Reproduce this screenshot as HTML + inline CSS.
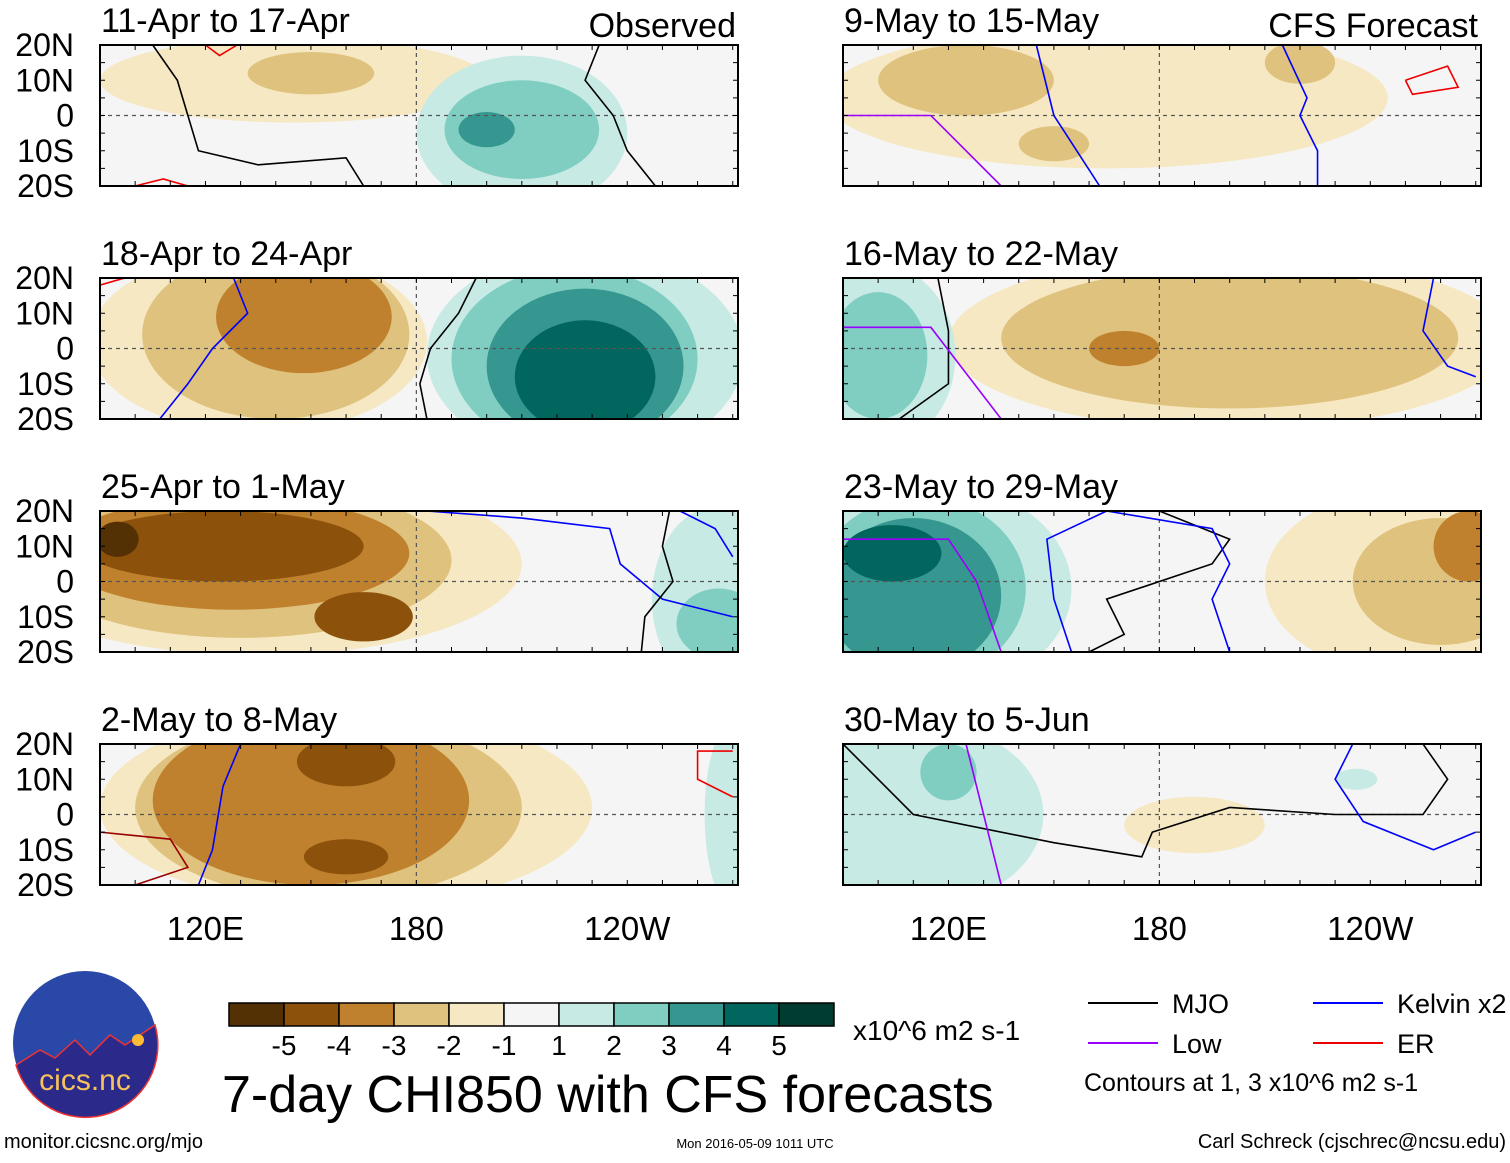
<!DOCTYPE html>
<html><head><meta charset="utf-8"><style>
body{margin:0;background:#fff;width:1510px;height:1158px;overflow:hidden;font-family:"Liberation Sans",sans-serif}
svg text{font-family:"Liberation Sans",sans-serif}
</style></head><body>
<svg id="root" width="1510" height="1158" viewBox="0 0 1510 1158" xmlns="http://www.w3.org/2000/svg"></svg>
<script>
// ---- data ----
const levelColors = ["#543005","#8c510a","#bf812d","#dfc27d","#f6e8c3","#f5f5f5","#c7eae5","#80cdc1","#35978f","#01665e","#003c30"];
const levelIndex = {"-5":0,"-4":1,"-3":2,"-2":3,"-1":4,"1":6,"2":7,"3":8,"4":9,"5":10};
const colorbarLabels = ["-5","-4","-3","-2","-1","1","2","3","4","5"];
const panelTitles = ["11-Apr to 17-Apr","18-Apr to 24-Apr","25-Apr to 1-May","2-May to 8-May","9-May to 15-May","16-May to 22-May","23-May to 29-May","30-May to 5-Jun"];
const latTicks = [20,10,0,-10,-20];
const latLabels = ["20N","10N","0","10S","20S"];
const lonTicks = [120,180,240];
const lonLabels = ["120E","180","120W"];
// blobs: [lon, lat, radiusLon, radiusLat, level]
const blobs0 = [[145,10,55,12,-1],[150,12,18,6,-2],[210,-5,30,22,1],[210,-4,22,14,2],[200,-4,8,5,3]];
const blobs1 = [[135,2,48,26,-1],[140,4,38,24,-2],[148,9,25,16,-3],[228,-2,45,30,1],[225,-3,35,26,2],[228,-5,28,22,3],[228,-8,20,16,4]];
const blobs2 = [[135,5,75,26,-1],[130,6,60,22,-2],[128,8,50,16,-3],[125,10,40,10,-4],[165,-10,14,7,-4],[95,12,6,5,-5],[265,-5,18,26,1],[266,-12,12,10,2]];
const blobs3 = [[160,2,70,28,-1],[155,2,55,26,-2],[150,4,45,24,-3],[160,15,14,7,-4],[160,-12,12,5,-4],[270,0,8,26,1]];
const blobs4 = [[165,5,80,20,-1],[125,10,25,10,-2],[150,-8,10,5,-2],[220,15,10,6,-2]];
const blobs5 = [[200,2,80,25,-1],[200,3,65,20,-2],[170,0,10,5,-3],[100,-2,22,26,1],[100,-2,14,18,2]];
const blobs6 = [[115,-2,40,30,1],[112,-2,30,26,2],[110,-4,25,22,3],[104,8,14,8,4],[250,0,40,26,-1],[260,0,25,18,-2],[268,10,10,10,-3]];
const blobs7 = [[112,0,35,26,1],[120,12,8,8,2],[190,-3,20,8,-1],[236,10,6,3,1]];
const allBlobs = [blobs0,blobs1,blobs2,blobs3,blobs4,blobs5,blobs6,blobs7];
// contour lines: [color, [[lon,lat],...]]
const lines0 = [["#000",[[105,20],[112,10],[115,0],[118,-10],[135,-14],[160,-12],[165,-20]]],["#000",[[232,20],[228,10],[236,0],[240,-10],[248,-20]]],["#e00",[[120,20],[124,17],[129,20]]],["#e00",[[100,-20],[108,-18],[115,-20]]]];
const lines1 = [["#00f",[[128,20],[132,10],[122,0],[115,-10],[107,-20]]],["#000",[[183,-20],[181,-10],[184,0],[192,10],[197,20]]],["#e00",[[90,18],[97,20]]]];
const lines2 = [["#00f",[[183,20],[210,18],[235,15],[238,5],[250,-5],[270,-10]]],["#00f",[[255,20],[265,15],[270,7]]],["#000",[[252,20],[250,10],[253,0],[245,-10],[244,-20]]]];
const lines3 = [["#00f",[[130,20],[125,8],[122,-10],[118,-20]]],["#900",[[90,-5],[110,-7],[115,-15],[100,-20]]],["#e00",[[270,18],[260,18],[260,10],[270,5]]]];
const lines4 = [["#00f",[[145,20],[150,0],[163,-20]]],["#00f",[[215,20],[222,5],[220,0],[225,-10],[225,-20]]],["#e00",[[250,10],[262,14],[265,8],[252,6],[250,10]]],["#90f",[[90,0],[115,0],[135,-20]]]];
const lines5 = [["#000",[[106,-20],[120,-10],[120,5],[117,20]]],["#90f",[[90,6],[115,6],[135,-20]]],["#00f",[[258,20],[255,5],[262,-5],[270,-8]]]];
const lines6 = [["#000",[[160,-20],[170,-15],[165,-5],[195,5],[200,12],[180,20],[152,20]]],["#00f",[[155,-20],[150,-5],[148,12],[165,20],[195,15],[200,5],[195,-5],[200,-20]]],["#90f",[[90,12],[120,12],[128,0],[135,-20]]]];
const lines7 = [["#000",[[90,20],[110,0],[150,-8],[175,-12],[178,-5],[200,2],[230,0],[255,0],[262,10],[255,20]]],["#00f",[[235,20],[230,10],[238,-2],[258,-10],[270,-5]]],["#90f",[[125,20],[130,0],[135,-20]]]];
const allLines = [lines0,lines1,lines2,lines3,lines4,lines5,lines6,lines7];

// ---- geometry ----
const NS="http://www.w3.org/2000/svg", root=document.getElementById('root');
const lonMin=90, lonMax=271.5;
function mk(tag,attrs,parent){const e=document.createElementNS(NS,tag);for(const k in attrs)e.setAttribute(k,attrs[k]);(parent||root).appendChild(e);return e;}
const colX=[100,843], rowY=[45,278,511,744], PW=638, PH=141;
function makeAxes(x0,y0){return{x:lon=>x0+(lon-lonMin)/(lonMax-lonMin)*PW,y:lat=>y0+(20-lat)/40*PH};}

for(let p=0;p<8;p++){
  const col=p<4?0:1,row=p%4,x0=colX[col],y0=rowY[row],ax=makeAxes(x0,y0);
  const g=mk('g',{});
  
  
  const cp=mk('clipPath',{id:'c'+p},g);mk('rect',{x:x0,y:y0,width:PW,height:PH},cp);
  mk('rect',{x:x0,y:y0,width:PW,height:PH,fill:levelColors[5]},g);
  const gb=mk('g',{'clip-path':'url(#c'+p+')'},g);
  const bl=allBlobs[p].slice().sort((a,b)=>Math.abs(a[4])-Math.abs(b[4]));
  for(const b of bl){
    const e=mk('ellipse',{cx:ax.x(b[0]),cy:ax.y(b[1]),rx:b[2]*PW/(lonMax-lonMin),ry:b[3]*PH/40,fill:levelColors[levelIndex[b[4]]]},gb);
    
    
  }
  mk('line',{x1:x0,x2:x0+PW,y1:ax.y(0),y2:ax.y(0),stroke:'#555','stroke-dasharray':'4,4','stroke-width':1.2},gb);
  mk('line',{x1:ax.x(180),x2:ax.x(180),y1:y0,y2:y0+PH,stroke:'#555','stroke-dasharray':'4,4','stroke-width':1.2},gb);
  for(const l of allLines[p]){
    const pl=mk('polyline',{points:l[1].map(q=>ax.x(q[0])+','+ax.y(q[1])).join(' '),fill:'none',stroke:l[0],'stroke-width':1.6},gb);
    
    
  }
  mk('rect',{x:x0,y:y0,width:PW,height:PH,fill:'none',stroke:'#000','stroke-width':2},g);
  for(let lt=-20;lt<=20;lt+=5){mk('line',{x1:x0,x2:x0+5,y1:ax.y(lt),y2:ax.y(lt),stroke:'#000'},g);mk('line',{x1:x0+PW,x2:x0+PW-5,y1:ax.y(lt),y2:ax.y(lt),stroke:'#000'},g);}
  for(let ln=90;ln<=270;ln+=10){mk('line',{x1:ax.x(ln),x2:ax.x(ln),y1:y0,y2:y0+5,stroke:'#000'},g);mk('line',{x1:ax.x(ln),x2:ax.x(ln),y1:y0+PH,y2:y0+PH-5,stroke:'#000'},g);}
  const t=mk('text',{x:x0+1,y:y0-13,'font-size':34},g);t.textContent=panelTitles[p];
  
  
  if(col===0){latTicks.forEach((lt,i)=>{const tl=mk('text',{x:74,y:ax.y(lt)+11,'font-size':32,'text-anchor':'end'});tl.textContent=latLabels[i];
    
    });}
  if(row===3){lonTicks.forEach((ln,i)=>{const tl=mk('text',{x:ax.x(ln),y:940,'font-size':33,'text-anchor':'middle'});tl.textContent=lonLabels[i];
    
    });}
}
function txt(x,y,s,size,name,anchor){const t=mk('text',{x:x,y:y,'font-size':size,'text-anchor':anchor||'start'});t.textContent=s;
  
  return t;}
txt(736,37,'Observed',34,'observed-label','end');
txt(1478,37,'CFS Forecast',34,'cfs-forecast-label','end');
// colorbar
levelColors.forEach((c,i)=>{const r=mk('rect',{x:229+i*55,y:1003,width:55,height:23,fill:c,stroke:'#000','stroke-width':1.5});
  
  });
colorbarLabels.forEach((s,i)=>txt(284+i*55,1055,s,28,'colorbar-label','middle'));
txt(853,1040,'x10^6 m2 s-1',28,'colorbar-units');
txt(222,1112,'7-day CHI850 with CFS forecasts',52,'figure-title');
// legend
[['#000',1088,1003,'MJO'],['#00f',1313,1003,'Kelvin x2'],['#90f',1088,1043,'Low'],['#e00',1313,1043,'ER']].forEach(l=>{
  mk('line',{x1:l[1],x2:l[1]+70,y1:l[2],y2:l[2],stroke:l[0],'stroke-width':2});
  txt(l[1]+84,l[2]+10,l[3],27,'legend-entry');
});
txt(1084,1091,'Contours at 1, 3 x10^6 m2 s-1',25,'contour-note');
// logo
const lg=mk('g',{});
mk('circle',{cx:85,cy:1043,r:72,fill:'#2a48a8'},lg);
mk('path',{d:'M16,1065 L40,1050 L55,1058 L75,1040 L90,1055 L110,1035 L125,1045 L155,1025 A72 72 0 0 1 16 1065Z',fill:'#2b2a8a',stroke:'#e33','stroke-width':1.5},lg);
mk('circle',{cx:138,cy:1040,r:6,fill:'#fb3'},lg);
const lt=mk('text',{x:85,y:1090,'font-size':30,'text-anchor':'middle',fill:'#f7c25a'},lg);lt.textContent='cics.nc';
txt(4,1148,'monitor.cicsnc.org/mjo',20,'source-url');
txt(755,1148,'Mon 2016-05-09 1011 UTC',13,'timestamp','middle');
txt(1506,1148,'Carl Schreck (cjschrec@ncsu.edu)',20,'author-credit','end');
</script>
</body></html>
